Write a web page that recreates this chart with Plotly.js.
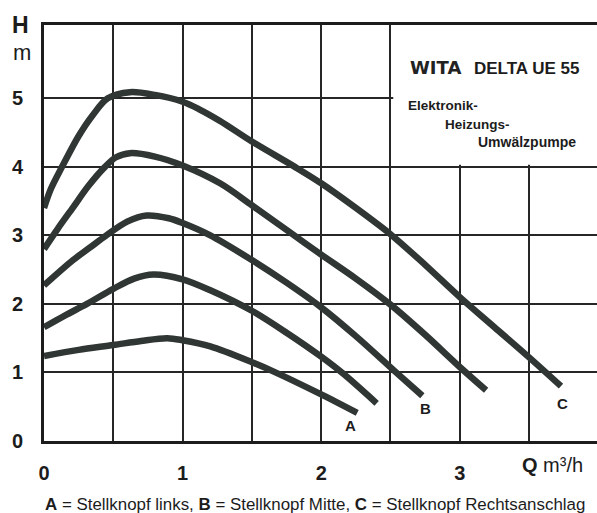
<!DOCTYPE html>
<html>
<head>
<meta charset="utf-8">
<script src="https://cdn.plot.ly/plotly-3.0.1.min.js"></script>
<style>html,body{margin:0;padding:0;background:#fff;}#chart{width:597px;height:513px;}</style>
</head>
<body>
<div id="chart"></div>
<script>
// Data (Q in m³/h, H in m)
const qC = [0, 0.05, 0.13, 0.25, 0.35, 0.46, 0.62, 0.8, 1.0, 1.12, 1.27, 1.5, 1.81, 2.0, 2.25, 2.51, 2.75, 3.0, 3.25, 3.5, 3.73];
const hC = [3.4, 3.68, 4.0, 4.45, 4.75, 5.0, 5.09, 5.05, 4.95, 4.84, 4.67, 4.37, 4.0, 3.76, 3.4, 3.0, 2.57, 2.1, 1.66, 1.22, 0.8];

const q2 = [0, 0.1, 0.21, 0.32, 0.44, 0.52, 0.62, 0.8, 1.0, 1.27, 1.5, 1.77, 2.0, 2.25, 2.5, 2.75, 3.0, 3.19];
const h2 = [2.8, 3.1, 3.41, 3.72, 4.0, 4.14, 4.2, 4.15, 4.02, 3.76, 3.44, 3.05, 2.72, 2.37, 1.99, 1.55, 1.08, 0.74];

const qB = [0, 0.21, 0.33, 0.45, 0.6, 0.74, 0.9, 1.0, 1.2, 1.5, 1.75, 2.0, 2.25, 2.53, 2.73];
const hB = [2.27, 2.64, 2.82, 3.0, 3.2, 3.29, 3.25, 3.18, 3.0, 2.64, 2.31, 1.95, 1.53, 1.02, 0.66];

const q4 = [0, 0.15, 0.31, 0.5, 0.65, 0.79, 1.0, 1.2, 1.5, 1.75, 2.0, 2.16, 2.4];
const h4 = [1.66, 1.83, 2.0, 2.22, 2.37, 2.43, 2.36, 2.2, 1.9, 1.58, 1.23, 0.98, 0.55];

const qA = [0, 0.25, 0.5, 0.7, 0.89, 1.0, 1.2, 1.5, 1.65, 2.0, 2.26];
const hA = [1.24, 1.33, 1.40, 1.46, 1.50, 1.47, 1.38, 1.15, 1.02, 0.68, 0.41];

const curveLabels = ['A', 'B', 'C'];
const curveLabelQ = [2.21, 2.75, 3.74];
const curveLabelH = [0.23, 0.48, 0.55];

const xTickVals = [0, 1, 2, 3];
const xTickText = ['0', '1', '2', '3'];
const yTickVals = [0, 1, 2, 3, 4, 5];
const yTickText = ['0', '1', '2', '3', '4', '5'];

// ---- drawing ----
const W = 597, Hh = 513, L = 44, R = 0, T = 25, B = 72;
const pw = W - L - R, ph = Hh - T - B;
const ax = px => (px - L) / pw;
const ay = py => (Hh - B - py) / ph;

const ink = '#1c1c1c';
const gridInk = '#262626';
const curveColor = '#2f3633';
const font = 'Liberation Sans, Arial, sans-serif';

const series = [[qA, hA], [q4, h4], [qB, hB], [q2, h2], [qC, hC]];
const traces = series.map(([x, y]) => ({
  x: x, y: y, type: 'scatter', mode: 'lines',
  line: {color: curveColor, width: 6.5, shape: 'spline', smoothing: 0.9},
  hoverinfo: 'skip', cliponaxis: true
}));

const annotations = [];
curveLabels.forEach((t, i) => annotations.push({
  x: curveLabelQ[i], y: curveLabelH[i], xref: 'x', yref: 'y', text: '<b>' + t + '</b>',
  showarrow: false, font: {family: font, size: 15, color: ink}
}));
function txt(text, px, py, size, opts) {
  annotations.push(Object.assign({
    x: ax(px), y: ay(py), xref: 'paper', yref: 'paper', text: text, showarrow: false,
    xanchor: 'center', yanchor: 'middle',
    font: {family: font, size: size, color: ink}
  }, opts || {}));
}
txt('<b>H</b>', 20, 25, 23);
txt('m', 22, 53, 22);
txt('<b>Q</b> m³/h', 552, 465, 20);
txt('<b>WITA</b>', 408, 68, 18, {xanchor: 'left', font: {family: 'DejaVu Sans, sans-serif', size: 18, color: '#222'}});
txt('<b>DELTA UE 55</b>', 472, 69, 17, {xanchor: 'left'});
txt('<b>Elektronik-</b>', 406, 105, 13.5, {xanchor: 'left'});
txt('<b>Heizungs-</b>', 443, 124, 13.5, {xanchor: 'left'});
txt('<b>Umwälzpumpe</b>', 476, 142, 14, {xanchor: 'left'});
txt('<b>A</b> = Stellknopf links, <b>B</b> = Stellknopf Mitte, <b>C</b> = Stellknopf Rechtsanschlag', 43, 504, 16.9, {xanchor: 'left'});

const layout = {
  width: W, height: Hh,
  margin: {l: L, r: R, t: T, b: B, pad: 0},
  paper_bgcolor: '#fff', plot_bgcolor: '#fff',
  showlegend: false,
  xaxis: {
    range: [0, 3.99], tickmode: 'array', tickvals: xTickVals, ticktext: xTickText,
    showgrid: true, gridcolor: gridInk, gridwidth: 2,
    minor: {tickmode: 'linear', tick0: 0, dtick: 0.5, showgrid: true, gridcolor: gridInk, gridwidth: 2, ticks: ''},
    showline: true, linecolor: ink, linewidth: 3, mirror: true,
    zeroline: false, ticks: '', ticklabelstandoff: 12,
    tickfont: {family: font, size: 20, color: ink, weight: 'bold'},
    fixedrange: true
  },
  yaxis: {
    range: [0, 6.07], tickmode: 'array', tickvals: yTickVals, ticktext: yTickText,
    showgrid: true, gridcolor: gridInk, gridwidth: 2,
    showline: true, linecolor: ink, linewidth: 3, mirror: false,
    zeroline: false, ticks: '', ticklabelstandoff: 14,
    tickfont: {family: font, size: 20, color: ink, weight: 'bold'},
    fixedrange: true
  },
  shapes: [
    {type: 'rect', layer: 'between', xref: 'x', yref: 'y', x0: 2.52, x1: 4.2, y0: 4.03, y1: 6.2,
     fillcolor: '#fff', line: {width: 0}}
  ],
  annotations: annotations
};

Plotly.newPlot('chart', traces, layout, {displayModeBar: false, staticPlot: true});
</script>
</body>
</html>
